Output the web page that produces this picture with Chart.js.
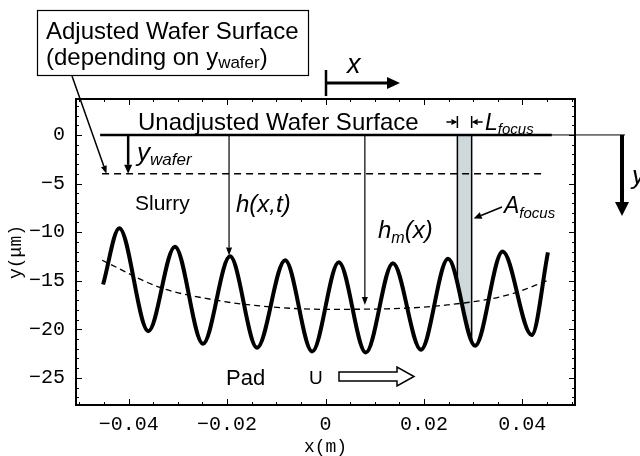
<!DOCTYPE html>
<html>
<head>
<meta charset="utf-8">
<script src="https://cdn.jsdelivr.net/npm/chart.js@4/dist/chart.umd.min.js"></script>
<style>
  html, body { margin: 0; padding: 0; background: #fff; }
  #wrap { width: 640px; height: 456px; }
</style>
</head>
<body>
<div id="wrap"><canvas id="waferChart"></canvas></div>
<script>
// values (x in m, y in um)
const waveX = [-0.0452, -0.0419, -0.0360, -0.0306, -0.0249, -0.0194, -0.0139, -0.0082, -0.0027,
               0.0027, 0.0082, 0.0137, 0.0194, 0.0249, 0.0304, 0.0360, 0.0419, 0.0452];
const waveY = [-15.4, -9.6, -20.2, -11.5, -21.5, -12.5, -21.9, -12.9, -22.3,
               -13.1, -22.4, -13.2, -22.1, -12.75, -21.7, -12.0, -20.6, -12.1];
const meanX = [-0.0454, -0.0336, -0.0224, -0.0112, 0, 0.0125, 0.0247, 0.0369, 0.0456];
const meanY = [-12.9, -15.7, -17.0, -17.7, -17.95, -17.9, -17.5, -16.5, -14.9];
const surfaceX = [-0.0458, 0.0460];
const surfaceY = [0, 0];
const adjustedX = [-0.0454, 0.0446];
const adjustedY = [-4, -4];
const focusX = [0.0268, 0.0268, 0.0283, 0.0297, 0.0297];
const focusY = [0, -15.0, -18.5, -21.2, 0];
const xTicks = [-0.04, -0.02, 0, 0.02, 0.04];
const yTicks = [0, -5, -10, -15, -20, -25];

const SANS = "'Liberation Sans', Arial, sans-serif";
const MONO = "'Liberation Mono', 'Courier New', monospace";

function pts(xs, ys) {
  return xs.map((v, i) => ({x: v, y: ys[i]}));
}

function arrow(ctx, x1, y1, x2, y2, w, head, hw) {
  const ang = Math.atan2(y2 - y1, x2 - x1);
  const bx = x2 - head * Math.cos(ang), by = y2 - head * Math.sin(ang);
  ctx.lineWidth = w;
  ctx.beginPath(); ctx.moveTo(x1, y1); ctx.lineTo(bx, by); ctx.stroke();
  ctx.beginPath();
  ctx.moveTo(x2, y2);
  ctx.lineTo(bx + hw * Math.sin(ang), by - hw * Math.cos(ang));
  ctx.lineTo(bx - hw * Math.sin(ang), by + hw * Math.cos(ang));
  ctx.closePath();
  ctx.fill();
}

// text with a subscript
function subText(ctx, x, y, main, sub, mainFont, subFont, drop, tail) {
  ctx.font = mainFont;
  ctx.fillText(main, x, y);
  let w = ctx.measureText(main).width;
  ctx.font = subFont;
  ctx.fillText(sub, x + w, y + drop);
  w += ctx.measureText(sub).width;
  if (tail) {
    ctx.font = mainFont;
    ctx.fillText(tail, x + w, y);
  }
}

// minus sign like the original plot
function fmt(v) {
  return String(v).replace('-', '\u2212');
}

const decorations = {
  id: 'decorations',
  afterDraw(chart) {
    const {ctx, chartArea: a, scales: {x, y}} = chart;
    ctx.save();
    ctx.strokeStyle = '#000';
    ctx.fillStyle = '#000';

    // frame + inward ticks on all four sides
    ctx.lineWidth = 2;
    ctx.strokeRect(a.left, a.top, a.right - a.left, a.bottom - a.top);
    ctx.lineWidth = 1;
    ctx.beginPath();
    for (let i = -10; i <= 10; i++) {
      const px = Math.round(x.getPixelForValue(i * 0.005)) + 0.5;
      const len = i % 4 === 0 ? 6 : 3;
      ctx.moveTo(px, a.bottom); ctx.lineTo(px, a.bottom - len);
      ctx.moveTo(px, a.top); ctx.lineTo(px, a.top + len);
    }
    for (let i = -27; i <= 3; i++) {
      const py = Math.round(y.getPixelForValue(i)) + 0.5;
      const len = i % 5 === 0 ? 6 : 3;
      ctx.moveTo(a.left, py); ctx.lineTo(a.left + len, py);
      ctx.moveTo(a.right, py); ctx.lineTo(a.right - len, py);
    }
    ctx.stroke();

    const y0 = y.getPixelForValue(0);

    // thin continuation of the wafer surface line
    ctx.lineWidth = 1;
    ctx.beginPath();
    ctx.moveTo(x.getPixelForValue(surfaceX[1]), y0);
    ctx.lineTo(625, y0);
    ctx.stroke();

    // box top left
    ctx.lineWidth = 1.2;
    ctx.strokeRect(37.5, 10.5, 271, 65);
    ctx.textBaseline = 'alphabetic';
    ctx.font = '24px ' + SANS;
    ctx.fillText('Adjusted Wafer Surface', 46, 39);
    subText(ctx, 46, 65, '(depending on y', 'wafer', '24px ' + SANS, '17px ' + SANS, 3, ')');
    arrow(ctx, 72, 76, x.getPixelForValue(-0.0445), y.getPixelForValue(-4), 1.5, 8, 3);

    // x direction arrow
    ctx.lineWidth = 2.5;
    ctx.beginPath(); ctx.moveTo(326, 70); ctx.lineTo(326, 96); ctx.stroke();
    arrow(ctx, 326, 83, 400, 83, 3, 13, 6);
    ctx.font = 'italic 27px ' + SANS;
    ctx.fillText('x', 347, 73);

    // unadjusted surface label
    ctx.font = '24px ' + SANS;
    ctx.fillText('Unadjusted Wafer Surface', 138, 130);

    // L focus markers
    const fl = x.getPixelForValue(focusX[0]), fr = x.getPixelForValue(focusX[3]);
    ctx.lineWidth = 1.5;
    ctx.beginPath();
    ctx.moveTo(fl, 116); ctx.lineTo(fl, 128);
    ctx.moveTo(fr, 116); ctx.lineTo(fr, 128);
    ctx.stroke();
    arrow(ctx, fl - 11, 122, fl, 122, 1.5, 6, 3);
    arrow(ctx, fr + 11, 122, fr, 122, 1.5, 6, 3);
    subText(ctx, 485, 130, 'L', 'focus', 'italic 23px ' + SANS, 'italic 15px ' + SANS, 4);

    // y_wafer arrow
    const xw = x.getPixelForValue(-0.0401);
    arrow(ctx, xw, y0, xw, y.getPixelForValue(-4), 2.5, 9, 4);
    subText(ctx, 137, 161, 'y', 'wafer', 'italic 26px ' + SANS, 'italic 17px ' + SANS, 4);

    // slurry
    ctx.font = '21px ' + SANS;
    ctx.fillText('Slurry', 135, 210);

    // h(x,t)
    const xh = x.getPixelForValue(-0.0196);
    arrow(ctx, xh, y0, xh, y.getPixelForValue(-12.4), 1.2, 8, 3);
    ctx.font = 'italic 24px ' + SANS;
    ctx.fillText('h(x,t)', 236, 212);

    // h_m(x)
    const xm = x.getPixelForValue(0.0080);
    arrow(ctx, xm, y0, xm, y.getPixelForValue(-17.5), 1.2, 8, 3);
    subText(ctx, 378, 238, 'h', 'm', 'italic 24px ' + SANS, 'italic 16px ' + SANS, 5, '(x)');

    // A focus
    arrow(ctx, 502, 207, fr + 2, y.getPixelForValue(-8.6), 1.5, 8, 3.5);
    subText(ctx, 504, 213, 'A', 'focus', 'italic 23px ' + SANS, 'italic 15px ' + SANS, 5);

    // pad and velocity
    ctx.font = '22px ' + SANS;
    ctx.fillText('Pad', 226, 385);
    ctx.font = '19px ' + SANS;
    ctx.fillText('U', 309, 384);
    ctx.lineWidth = 1.5;
    ctx.beginPath();
    ctx.moveTo(339, 372); ctx.lineTo(397, 372); ctx.lineTo(397, 367);
    ctx.lineTo(414, 376.5); ctx.lineTo(397, 386); ctx.lineTo(397, 381);
    ctx.lineTo(339, 381); ctx.closePath();
    ctx.stroke();

    // y direction arrow on the right
    arrow(ctx, 622, y0, 622, 216, 4, 14, 7);
    ctx.font = 'italic 26px ' + SANS;
    ctx.fillText('y', 632, 184);

    ctx.restore();
  }
};

const ctx = document.getElementById('waferChart');
const waferChart = new Chart(ctx, {
  type: 'scatter',
  data: {
    datasets: [
      {
        data: pts(waveX, waveY),
        showLine: true,
        borderColor: '#000',
        borderWidth: 4,
        pointRadius: 0,
        cubicInterpolationMode: 'monotone',
      },
      {
        data: pts(meanX, meanY),
        showLine: true,
        borderColor: '#000',
        borderWidth: 1.3,
        borderDash: [6, 4],
        pointRadius: 0,
        cubicInterpolationMode: 'monotone',
      },
      {
        data: pts(surfaceX, surfaceY),
        showLine: true,
        borderColor: '#000',
        borderWidth: 2.5,
        pointRadius: 0,
      },
      {
        data: pts(adjustedX, adjustedY),
        showLine: true,
        borderColor: '#000',
        borderWidth: 1.5,
        borderDash: [7, 5],
        pointRadius: 0,
      },
      {
        data: pts(focusX, focusY),
        showLine: true,
        borderColor: '#000',
        borderWidth: 1.5,
        backgroundColor: '#cfd8da',
        fill: 'origin',
        pointRadius: 0,
        tension: 0,
      },
    ]
  },
  options: {
    responsive: true,
    maintainAspectRatio: false,
    animation: false,
    events: [],
    layout: {padding: {top: 99, right: 65, left: 0, bottom: 0}},
    plugins: {
      legend: {display: false},
      tooltip: {enabled: false},
    },
    scales: {
      x: {
        type: 'linear',
        min: -0.0507,
        max: 0.0507,
        afterFit: (scale) => { scale.height = 51; },
        afterBuildTicks: (scale) => { scale.ticks = xTicks.map(v => ({value: v})); },
        grid: {display: false},
        border: {display: false},
        ticks: {
          padding: 0,
          color: '#000',
          font: {family: MONO, size: 20},
          callback: (v) => Math.abs(v) < 1e-9 ? '0' : fmt(v.toFixed(2)),
        },
        title: {
          display: true,
          text: 'x(m)',
          color: '#000',
          font: {family: MONO, size: 18, lineHeight: 1},
          padding: 0,
        },
      },
      y: {
        type: 'linear',
        min: -27.8,
        max: 3.7,
        afterFit: (scale) => { scale.width = 76; },
        afterBuildTicks: (scale) => { scale.ticks = yTicks.map(v => ({value: v})); },
        grid: {display: false},
        border: {display: false},
        ticks: {
          padding: 3,
          color: '#000',
          font: {family: MONO, size: 20},
          callback: (v) => fmt(v),
        },
        title: {
          display: true,
          text: 'y(μm)',
          color: '#000',
          font: {family: MONO, size: 18, lineHeight: 1},
          padding: {top: 7, bottom: 0},
        },
      },
    }
  },
  plugins: [decorations]
});
</script>
</body>
</html>
